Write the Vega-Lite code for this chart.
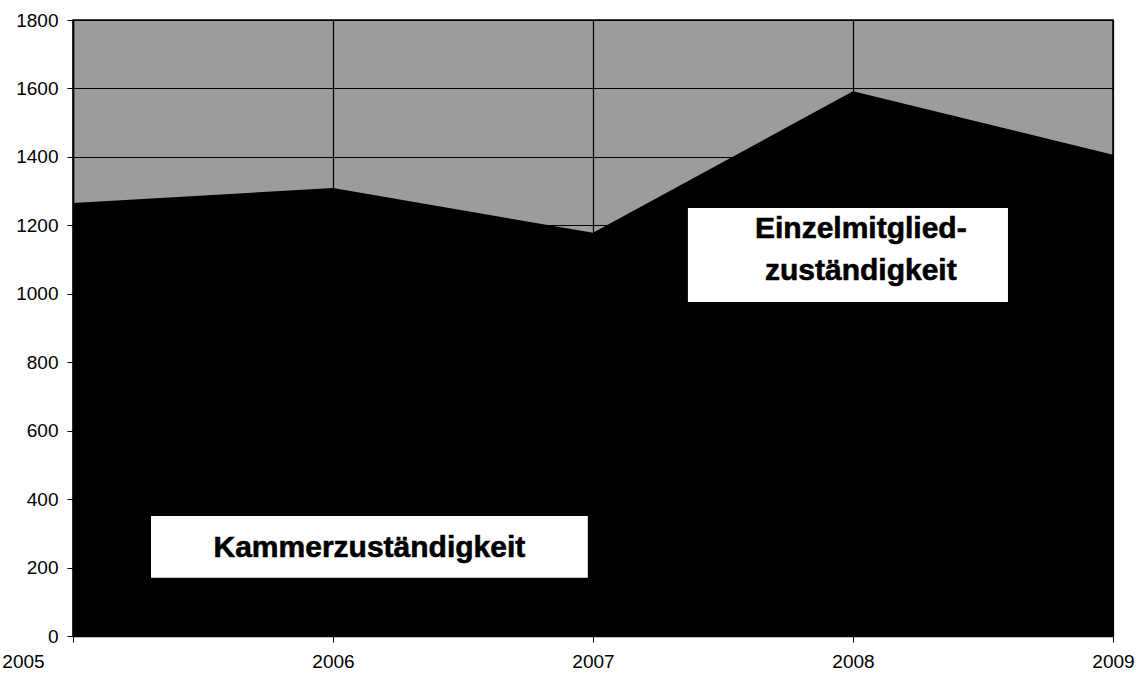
{
  "$schema": "https://vega.github.io/schema/vega-lite/v6.json",
  "width": 1040,
  "height": 616,
  "autosize": "none",
  "padding": {"left": 73, "top": 20, "right": 33, "bottom": 40},
  "background": "white",
  "view": {"fill": "#9c9c9c", "stroke": "black", "strokeWidth": 1.5},
  "datasets": {
    "series": [
      {"jahr": 2005, "kammer": 1265},
      {"jahr": 2006, "kammer": 1309},
      {"jahr": 2007, "kammer": 1178},
      {"jahr": 2008, "kammer": 1592},
      {"jahr": 2009, "kammer": 1406}
    ],
    "boxes": [
      {"x1": 2005.3, "x2": 2006.98, "y1": 170, "y2": 351},
      {"x1": 2007.365, "x2": 2008.596, "y1": 976, "y2": 1251}
    ],
    "labels": [
      {"x": 2006.14, "y": 258, "text": "Kammerzuständigkeit"},
      {"x": 2008.03, "y": 1189, "text": "Einzelmitglied-"},
      {"x": 2008.03, "y": 1067, "text": "zuständigkeit"}
    ]
  },
  "layer": [
    {
      "data": {"name": "series"},
      "mark": {"type": "area", "color": "black", "interpolate": "linear"},
      "encoding": {
        "x": {
          "field": "jahr",
          "type": "quantitative",
          "scale": {"domain": [2005, 2009], "nice": false, "zero": false},
          "axis": {
            "title": null,
            "values": [2005, 2006, 2007, 2008, 2009],
            "format": "d",
            "grid": true,
            "gridColor": "black",
            "gridWidth": 1.2,
            "gridOpacity": 1,
            "domainColor": "black",
            "domainWidth": 1.5,
            "tickColor": "black",
            "tickSize": 6,
            "labelPadding": 10,
            "labelFlush": false,
            "labelOffset": {"condition": {"test": "datum.value == 2005", "value": -50}, "value": 0},
            "labelFont": "Liberation Sans",
            "labelFontSize": 19,
            "labelColor": "black"
          }
        },
        "y": {
          "field": "kammer",
          "type": "quantitative",
          "scale": {"domain": [0, 1800], "nice": false},
          "axis": {
            "title": null,
            "values": [0, 200, 400, 600, 800, 1000, 1200, 1400, 1600, 1800],
            "format": "d",
            "grid": true,
            "gridColor": "black",
            "gridWidth": 1.2,
            "gridOpacity": 1,
            "domainColor": "black",
            "domainWidth": 1.5,
            "tickColor": "black",
            "tickSize": 6,
            "labelPadding": 9,
            "labelFont": "Liberation Sans",
            "labelFontSize": 19,
            "labelColor": "black"
          }
        }
      }
    },
    {
      "data": {"name": "boxes"},
      "mark": {"type": "rect", "color": "white"},
      "encoding": {
        "x": {"field": "x1", "type": "quantitative"},
        "x2": {"field": "x2"},
        "y": {"field": "y1", "type": "quantitative"},
        "y2": {"field": "y2"}
      }
    },
    {
      "data": {"name": "labels"},
      "mark": {"type": "text", "fontSize": 30, "fontWeight": "bold", "color": "black", "stroke": "black", "strokeWidth": 0.6, "font": "Liberation Sans", "align": "center", "baseline": "middle"},
      "encoding": {
        "x": {"field": "x", "type": "quantitative"},
        "y": {"field": "y", "type": "quantitative"},
        "text": {"field": "text"}
      }
    }
  ]
}
